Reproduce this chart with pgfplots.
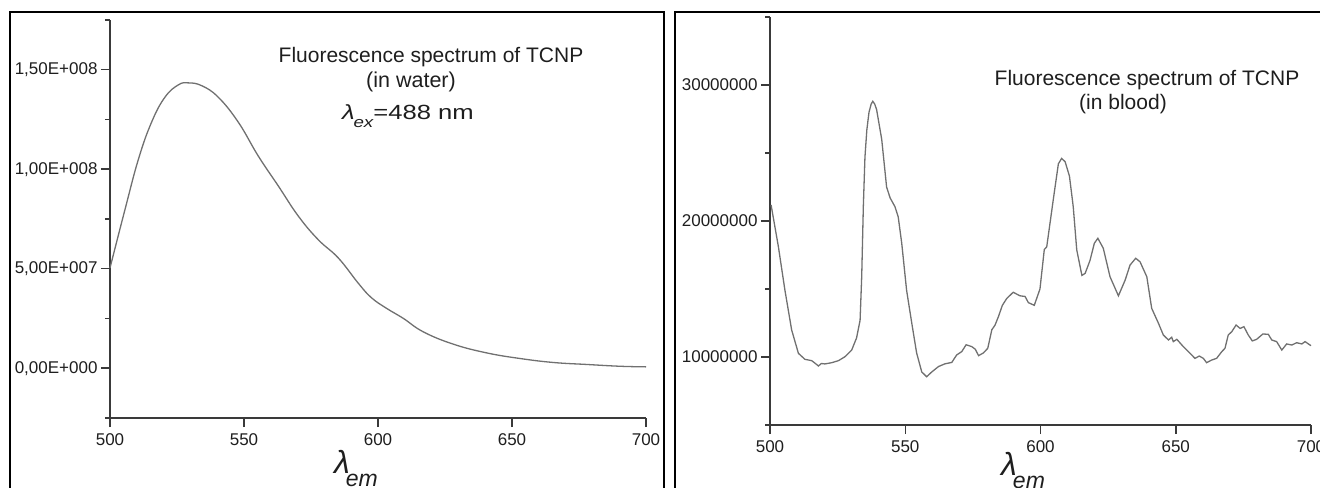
\documentclass[border=0pt]{standalone}
\usepackage{pgfplots}
\pgfplotsset{compat=1.18}
\usepackage{fontspec}
\setmainfont{Liberation Sans}
\definecolor{axiscol}{HTML}{3A3A3A}
\definecolor{curvecol}{HTML}{707070}
\definecolor{txtcol}{HTML}{1E1E1E}
\pgfplotsset{
  myaxis/.style={
    scale only axis,
    axis lines=left,
    axis line style={-, line width=1.8bp, color=axiscol},
    tick align=outside,
    major tick length=9bp,
    minor tick length=5bp,
    every tick/.style={line width=1.5bp, color=axiscol},
    tick label style={font=\fontsize{17bp}{20bp}\selectfont, text=txtcol},
    scaled y ticks=false, scaled x ticks=false,
    xmin=500, xmax=700,
    xtick={500,550,600,650,700},
    xticklabels={500,550,600,650,700},
    xticklabel style={yshift=-3bp},
    clip=false,
  }
}
\begin{document}
\begin{tikzpicture}
\useasboundingbox (0,0) rectangle (1320bp,488bp);
\begin{scope}
\clip (0,0) rectangle (1320bp,488bp);
\draw[line width=2bp, black] (10bp,-10bp) -- (10bp,475.5bp) -- (664bp,475.5bp) -- (664bp,-10bp);
\draw[line width=2bp, black] (675bp,-10bp) -- (675bp,475.5bp) -- (1335bp,475.5bp);
\end{scope}

\begin{axis}[myaxis,
  at={(110bp,70bp)}, anchor=south west,
  width=536bp, height=398bp,
  ymin=-2.5e7, ymax=1.75e8,
  ytick={0,5e7,1e8,1.5e8},
  yticklabels={{0,00E+000},{5,00E+007},{1,00E+008},{1,50E+008}},
  minor ytick={-2.5e7,2.5e7,7.5e7,1.25e8,1.75e8},
]
\addplot[curvecol, line width=1.3bp, smooth, tension=0.7] coordinates {
(500,5.04e7) (505.6,7.98e7) (510.6,1.05e8) (515.5,1.236e8) (520.5,1.362e8)
(525.5,1.424e8) (529.2,1.434e8) (534.2,1.42e8) (540.4,1.362e8) (547.9,1.236e8)
(555.3,1.067e8) (562.8,9.16e7) (570.3,7.64e7) (577.7,6.46e7) (585.2,5.54e7)
(592.6,4.28e7) (597.5,3.55e7) (603.2,3.01e7) (609.4,2.51e7) (616.9,1.83e7)
(628.1,1.21e7) (640.6,7.7e6) (653,4.9e6) (665.4,2.9e6) (677.9,1.9e6)
(690.3,1.0e6) (700,0.7e6)
};
\end{axis}

\begin{axis}[myaxis,
  at={(770bp,63bp)}, anchor=south west,
  width=541bp, height=408bp,
  ymin=5e6, ymax=3.5e7,
  ytick={1e7,2e7,3e7},
  yticklabels={10000000,20000000,30000000},
  minor ytick={5e6,1.5e7,2.5e7,3.5e7},
]
\addplot[curvecol, line width=1.3bp] coordinates {
(500.4,2.118e7) (503.1,1.811e7) (505.5,1.493e7) (508.0,1.199e7) (510.5,1.027e7)
(512.9,9.83e6) (515.4,9.73e6) (516.6,9.55e6) (517.9,9.34e6) (519.0,9.52e6) (520.3,9.49e6)
(522.8,9.58e6) (525.3,9.73e6) (527.7,1.002e7) (530.2,1.051e7) (532.0,1.14e7)
(533.3,1.27e7) (533.9,1.59e7) (534.5,2.105e7) (535.1,2.47e7) (535.8,2.67e7) (536.6,2.80e7)
(537.4,2.86e7) (538.0,2.88e7) (538.7,2.86e7) (539.4,2.82e7) (541.3,2.60e7) (543.1,2.25e7) (544.4,2.17e7)
(546.2,2.105e7) (547.4,2.03e7) (548.7,1.836e7) (550.5,1.49e7) (552.4,1.25e7)
(554.2,1.03e7) (556.1,8.9e6) (557.9,8.55e6) (559.8,8.9e6) (562.3,9.3e6)
(564.7,9.5e6) (567.2,9.6e6) (569.0,1.015e7) (570.9,1.04e7) (572.5,1.09e7)
(574.6,1.076e7) (575.9,1.057e7) (577.1,1.01e7) (578.9,1.03e7) (580.5,1.064e7)
(582.0,1.20e7) (583.2,1.235e7) (584.5,1.30e7) (585.9,1.38e7) (587.5,1.43e7)
(589.9,1.476e7) (592.4,1.45e7) (594.3,1.445e7) (595.5,1.40e7) (597.7,1.38e7)
(599.8,1.50e7) (601.4,1.79e7) (602.3,1.81e7) (604.7,2.154e7) (606.6,2.42e7)
(607.8,2.46e7) (609.1,2.436e7) (610.7,2.33e7) (612.1,2.105e7) (613.4,1.787e7)
(615.3,1.60e7) (616.5,1.615e7) (618.3,1.71e7) (619.9,1.836e7) (621.2,1.873e7)
(623.2,1.80e7) (625.7,1.59e7) (628.8,1.45e7) (631.3,1.566e7) (633.1,1.676e7)
(635.2,1.726e7) (636.8,1.70e7) (639.3,1.59e7) (641.1,1.358e7) (643.6,1.248e7)
(645.4,1.162e7) (647.3,1.125e7) (648.5,1.145e7) (649.1,1.113e7) (650.4,1.13e7)
(652.8,1.076e7) (655.3,1.027e7) (657.1,9.9e6) (658.7,1.007e7) (660.2,9.9e6)
(661.4,9.58e6) (663.3,9.78e6) (665.1,9.9e6) (667.0,1.039e7) (668.2,1.064e7)
(669.4,1.162e7) (670.7,1.186e7) (672.3,1.235e7) (673.8,1.21e7) (675.2,1.223e7)
(676.8,1.162e7) (678.3,1.118e7) (679.9,1.13e7) (682.2,1.169e7) (684.2,1.167e7)
(685.5,1.125e7) (687.3,1.113e7) (689.2,1.051e7) (691.0,1.096e7) (692.9,1.088e7)
(694.7,1.105e7) (696.6,1.096e7) (697.8,1.113e7) (700,1.083e7)
};
\end{axis}

% panel texts
\node[anchor=base, text=txtcol, inner sep=0, font=\fontsize{21bp}{24bp}\selectfont] at (431bp,425bp) {Fluorescence spectrum of TCNP};
\node[anchor=base, text=txtcol, inner sep=0, font=\fontsize{21.5bp}{24bp}\selectfont] at (411bp,400bp) {(in water)};
\node[anchor=base west, text=txtcol, inner sep=0] at (342bp,368bp) {\scalebox{1.25}[1]{\fontsize{20.5bp}{24bp}\selectfont\itshape λ\kern-1bp\raisebox{-8bp}{\fontsize{15bp}{18bp}\selectfont ex}\upshape=488 nm}};
\node[anchor=base, text=txtcol, inner sep=0, font=\fontsize{21bp}{24bp}\selectfont] at (1147bp,402bp) {Fluorescence spectrum of TCNP};
\node[anchor=base, text=txtcol, inner sep=0, font=\fontsize{21bp}{24bp}\selectfont] at (1123bp,378bp) {(in blood)};
% axis titles
\node[anchor=base west, text=txtcol, inner sep=0] at (334bp,15bp) {\fontsize{32bp}{36bp}\selectfont\itshape λ\kern-4bp\raisebox{-13bp}{\fontsize{23bp}{26bp}\selectfont em}};
\node[anchor=base west, text=txtcol, inner sep=0] at (1001bp,13bp) {\fontsize{32bp}{36bp}\selectfont\itshape λ\kern-4bp\raisebox{-13bp}{\fontsize{23bp}{26bp}\selectfont em}};
\end{tikzpicture}
\end{document}
